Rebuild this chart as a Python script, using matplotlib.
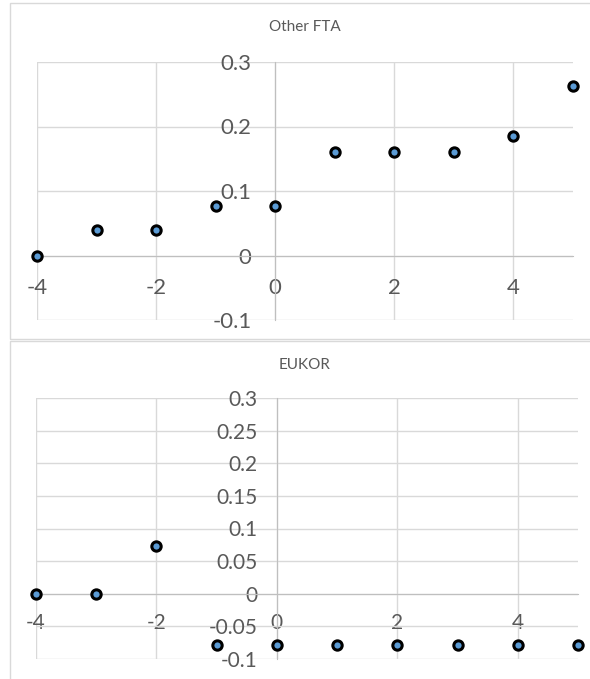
import matplotlib.pyplot as plt
from matplotlib.patches import Rectangle

# data
years = [-4, -3, -2, -1, 0, 1, 2, 3, 4, 5]
other_fta = [0.0, 0.04, 0.04, 0.077, 0.077, 0.16, 0.16, 0.16, 0.185, 0.263]
eukor = [0.0, 0.0, 0.073, -0.078, -0.078, -0.078, -0.078, -0.078, -0.078, -0.078]

top_yticks = [-0.1, 0, 0.1, 0.2, 0.3]
bottom_yticks = [-0.1, -0.05, 0, 0.05, 0.1, 0.15, 0.2, 0.25, 0.3]
xticks = [-4, -2, 0, 2, 4]

W, H = 590, 679
grid_c = "#D9D9D9"
text_c = "#595959"
plt.rcParams["font.family"] = ["Lato", "DejaVu Sans"]
plt.rcParams["axes.unicode_minus"] = False

fig = plt.figure(figsize=(W / 100, H / 100), dpi=100)

def px(x0, y0, x1, y1):
    # pixel box -> figure fraction [left, bottom, width, height]
    return [x0 / W, 1 - y1 / H, (x1 - x0) / W, (y1 - y0) / H]

# chart borders
for y0, y1 in [(3, 339), (341, 690)]:
    fig.patches.append(Rectangle((9.5 / W, 1 - y1 / H), (W + 10) / W, (y1 - y0) / H,
                                 transform=fig.transFigure, fill=False,
                                 edgecolor=grid_c, lw=1))


def panel(rect, yvals, yticks, title, title_y, fs, xpad, ypad):
    ax = fig.add_axes(px(*rect))
    ax.scatter(years, yvals, s=45, color="#5B9BD5", edgecolors="black",
               linewidths=2.2, zorder=5, clip_on=False)
    ax.set_xlim(-4, 5)
    ax.set_ylim(-0.1, 0.3)
    ax.set_xticks(xticks)
    ax.set_yticks(yticks)
    ax.set_yticklabels(["0" if v == 0 else f"{v:g}" for v in yticks])
    ax.grid(True, color=grid_c, lw=1)
    ax.set_axisbelow(True)
    for s in ["top", "right"]:
        ax.spines[s].set_visible(False)
    ax.spines["left"].set_position(("data", 0))
    ax.spines["bottom"].set_position(("data", 0))
    ax.spines["left"].set_color("#BFBFBF")
    ax.spines["bottom"].set_color("#BFBFBF")
    ax.tick_params(axis="both", length=0, labelsize=fs, labelcolor=text_c)
    ax.tick_params(axis="y", pad=ypad)
    ax.tick_params(axis="x", pad=xpad)
    fig.text(305 / W, 1 - title_y / H, title, ha="center", va="center",
             fontsize=11, color=text_c)
    return ax


panel((37, 62, 573, 320), other_fta, top_yticks, "Other FTA", 27, 16, 16, 17)
panel((36, 398, 578, 659), eukor, bottom_yticks, "EUKOR", 365, 15, 14, 14)

fig.savefig("out.png", dpi=100)
